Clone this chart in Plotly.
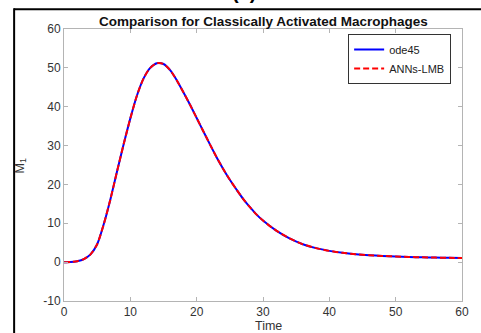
import plotly.graph_objects as go

time = [0, 1, 2, 3, 4, 5, 6, 7, 8, 9, 10, 11, 12, 13, 14, 15, 16, 17, 18, 19, 20,
        21, 22, 23, 24, 25, 26, 27, 28, 29, 30, 32, 34, 36, 38, 40, 42, 44, 46, 48,
        50, 52, 54, 56, 58, 60]
m1_ode45 = [0, 0.02, 0.25, 0.8, 2.0, 4.6, 9.8, 16.2, 23.4, 30.4, 37.0, 42.9, 47.3, 50.0, 51.2,
            51.0, 49.4, 46.8, 43.7, 40.5, 37.1, 33.7, 30.3, 27.0, 24.0, 21.2, 18.7, 16.3,
            14.2, 12.3, 10.7, 8.1, 6.1, 4.6, 3.6, 2.9, 2.4, 2.05, 1.8, 1.6, 1.45, 1.33,
            1.24, 1.17, 1.11, 1.07]
m1_ann = list(m1_ode45)

x_ticks = [0, 10, 20, 30, 40, 50, 60]
x_tick_text = ["0", "10", "20", "30", "40", "50", "60"]
y_ticks = [-10, 0, 10, 20, 30, 40, 50, 60]
y_tick_text = ["-10", "0", "10", "20", "30", "40", "50", "60"]

L, R, T, B = 64, 467, 29, 301
W, H = 481, 333

def px(x):
    return (x - L) / (R - L)

def py(y):
    return (B - y) / (B - T)

fig = go.Figure()
fig.add_trace(go.Scatter(x=time, y=m1_ode45, mode="lines", name="ode45",
                         line=dict(color="#0000ff", width=2, shape="spline", smoothing=0.7)))
fig.add_trace(go.Scatter(x=time, y=m1_ann, mode="lines", name="ANNs-LMB",
                         line=dict(color="#ff0000", width=2, dash="6px,3px", shape="spline", smoothing=0.7)))

axis_common = dict(showgrid=False, zeroline=False, showline=True, mirror="ticks",
                   linecolor="#b4b4b4", linewidth=1, ticks="inside", ticklen=4,
                   tickcolor="#b4b4b4", tickfont=dict(family="Liberation Sans", size=12, color="#333333"))

fig.update_xaxes(range=[0, 60], tickvals=x_ticks, ticktext=x_tick_text, **axis_common)
fig.update_yaxes(range=[-10, 60], tickvals=y_ticks, ticktext=y_tick_text, **axis_common)

fig.update_layout(
    width=W, height=H,
    margin=dict(l=L, r=W - R, t=T, b=H - B, pad=0),
    plot_bgcolor="white", paper_bgcolor="white",
    font=dict(family="Liberation Sans", color="#222222"),
    showlegend=True,
    legend=dict(x=px(456), y=py(34), xanchor="right", yanchor="top",
                bgcolor="white", bordercolor="#333333", borderwidth=1,
                font=dict(family="Liberation Sans", size=11, color="#222222"),
                tracegroupgap=0, itemwidth=30),
    annotations=[
        dict(text="<b>Comparison for Classically Activated Macrophages</b>", xref="paper", yref="paper",
             x=px(266), y=py(21), xanchor="center", yanchor="middle", showarrow=False,
             font=dict(family="Liberation Sans", size=13.5, color="#111111")),
        dict(text="Time", xref="paper", yref="paper", x=px(271), y=py(326),
             xanchor="center", yanchor="middle", showarrow=False,
             font=dict(family="Liberation Sans", size=12.5, color="#333333")),
        dict(text="M<sub>1</sub>", xref="paper", yref="paper", x=px(20), y=py(166),
             xanchor="center", yanchor="middle", showarrow=False, textangle=-90,
             font=dict(family="Liberation Sans", size=12.5, color="#333333")),
        dict(text="<b>(a)</b>", xref="paper", yref="paper", x=px(246), y=py(5),
             xanchor="center", yanchor="bottom", showarrow=False,
             font=dict(family="Liberation Sans", size=20, color="#000000")),
    ],
    shapes=[
        dict(type="line", xref="paper", yref="paper", x0=px(13.5), x1=px(490), y0=py(9.2), y1=py(9.2),
             line=dict(color="black", width=2)),
        dict(type="line", xref="paper", yref="paper", x0=px(13.5), x1=px(13.5), y0=py(8.2), y1=py(345),
             line=dict(color="black", width=2)),
    ],
)

fig.write_html("out.html")
